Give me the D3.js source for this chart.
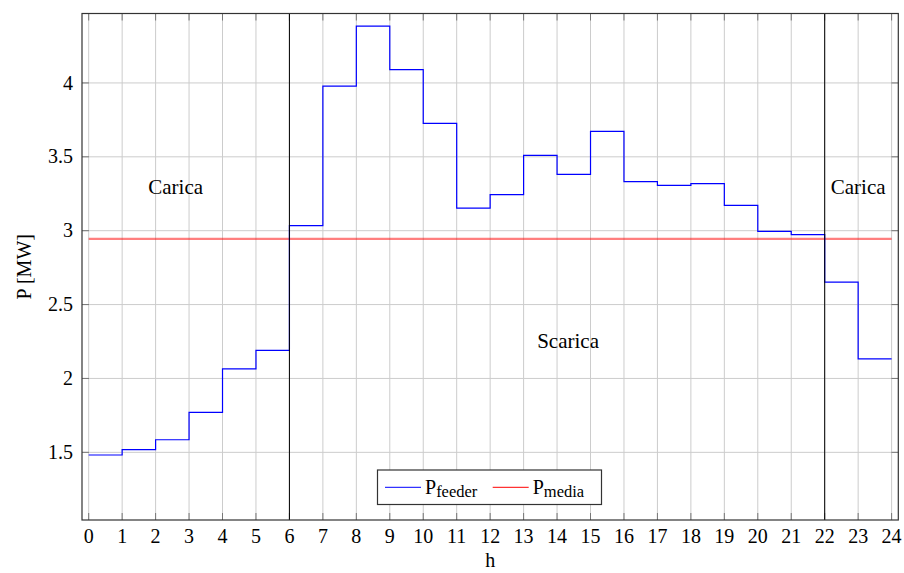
<!DOCTYPE html>
<html>
  <head>
    <meta charset="utf-8">
    <title>P feeder</title>
    <script src="https://d3js.org/d3.v7.min.js"></script>
    <style>
      body { margin: 0; background: #fff; }
      svg { display: block; font-family: "Liberation Serif", "DejaVu Serif", serif; }
      .grid line { stroke: #cccccc; stroke-width: 1; }
      .tick-label { font-size: 20px; fill: #000; }
    </style>
  </head>
  <body>
    <svg width="904" height="573"></svg>
    <script>
      // hours (start of each step) and feeder power in MW
      const hours = d3.range(0, 24);
      const pFeeder = [
        1.482, 1.518, 1.585, 1.771, 2.065, 2.190,
        3.034, 3.978, 4.384, 4.090, 3.726, 3.153,
        3.244, 3.510, 3.381, 3.672, 3.332, 3.307,
        3.318, 3.171, 2.995, 2.973, 2.652, 2.133
      ];
      const pMedia = 2.944;
      const xTicks = d3.range(0, 25);
      const yTicks = [1.5, 2, 2.5, 3, 3.5, 4];
      const phaseLines = [6, 22];
      const phaseLabels = [
        { text: "Carica", h: 2.6, p: 3.3 },
        { text: "Carica", h: 23, p: 3.3 },
        { text: "Scarica", h: 14.33, p: 2.253 }
      ];

      // plot box
      const box = { left: 82, right: 898.3, top: 13.5, bottom: 520 };

      const x = d3.scaleLinear().domain([-0.2, 24.2]).range([box.left, box.right]);
      const y = d3.scaleLinear().domain([1.042, 4.47]).range([box.bottom, box.top]);

      const svg = d3.select("svg");

      // grid
      const grid = svg.append("g").attr("class", "grid");
      grid.selectAll(".gx").data(xTicks).join("line")
        .attr("class", "gx")
        .attr("x1", d => x(d)).attr("x2", d => x(d))
        .attr("y1", box.top).attr("y2", box.bottom);
      grid.selectAll(".gy").data(yTicks).join("line")
        .attr("class", "gy")
        .attr("x1", box.left).attr("x2", box.right)
        .attr("y1", d => y(d)).attr("y2", d => y(d));

      // inner ticks on all four sides
      const tickLen = 7;
      const ticks = svg.append("g").attr("stroke", "#777").attr("stroke-width", 1);
      xTicks.forEach(d => {
        ticks.append("line").attr("x1", x(d)).attr("x2", x(d)).attr("y1", box.bottom).attr("y2", box.bottom - tickLen);
        ticks.append("line").attr("x1", x(d)).attr("x2", x(d)).attr("y1", box.top).attr("y2", box.top + tickLen);
      });
      yTicks.forEach(d => {
        ticks.append("line").attr("x1", box.left).attr("x2", box.left + tickLen).attr("y1", y(d)).attr("y2", y(d));
        ticks.append("line").attr("x1", box.right).attr("x2", box.right - tickLen).attr("y1", y(d)).attr("y2", y(d));
      });

      // mean line
      svg.append("line")
        .attr("x1", x(0)).attr("x2", x(24))
        .attr("y1", y(pMedia)).attr("y2", y(pMedia))
        .attr("stroke", "#ff0000").attr("stroke-opacity", 0.5).attr("stroke-width", 2.2);

      // feeder step line
      const stepData = hours.map((h, i) => [h, pFeeder[i]]);
      stepData.push([24, pFeeder[pFeeder.length - 1]]);
      const line = d3.line()
        .x(d => x(d[0]))
        .y(d => y(d[1]))
        .curve(d3.curveStepAfter);
      svg.append("path")
        .datum(stepData)
        .attr("fill", "none")
        .attr("stroke", "#0000ff")
        .attr("stroke-width", 1.2)
        .attr("d", line);

      // phase separators
      svg.selectAll(".phase").data(phaseLines).join("line")
        .attr("class", "phase")
        .attr("x1", d => x(d)).attr("x2", d => x(d))
        .attr("y1", box.top).attr("y2", box.bottom)
        .attr("stroke", "#000").attr("stroke-width", 1);

      // phase labels
      svg.selectAll(".plabel").data(phaseLabels).join("text")
        .attr("class", "plabel")
        .attr("x", d => x(d.h)).attr("y", d => y(d.p))
        .attr("dy", "0.35em")
        .attr("text-anchor", "middle")
        .attr("font-size", 21)
        .text(d => d.text);

      // axis box
      svg.append("rect")
        .attr("x", box.left).attr("y", box.top)
        .attr("width", box.right - box.left).attr("height", box.bottom - box.top)
        .attr("fill", "none").attr("stroke", "#333").attr("stroke-width", 1.2);

      // tick labels
      svg.selectAll(".xl").data(xTicks).join("text")
        .attr("class", "tick-label xl")
        .attr("x", d => x(d)).attr("y", 543)
        .attr("text-anchor", "middle")
        .text(d => d);
      svg.selectAll(".yl").data(yTicks).join("text")
        .attr("class", "tick-label yl")
        .attr("x", 73).attr("y", d => y(d)).attr("dy", "0.33em")
        .attr("text-anchor", "end")
        .text(d => d);

      // axis labels
      svg.append("text")
        .attr("x", (box.left + box.right) / 2).attr("y", 567)
        .attr("text-anchor", "middle").attr("font-size", 20)
        .text("h");
      svg.append("text")
        .attr("transform", `translate(31,${(box.top + box.bottom) / 2}) rotate(-90)`)
        .attr("text-anchor", "middle").attr("font-size", 20)
        .text("P [MW]");

      // legend
      const lg = svg.append("g");
      lg.append("rect")
        .attr("x", 377.5).attr("y", 470).attr("width", 224).attr("height", 34.5)
        .attr("fill", "#fff").attr("stroke", "#333").attr("stroke-width", 1.2);
      const items = [
        { color: "#0000ff", sub: "feeder", x0: 385 },
        { color: "#ff0000", sub: "media", x0: 492.7 }
      ];
      items.forEach(it => {
        lg.append("line")
          .attr("x1", it.x0).attr("x2", it.x0 + 36)
          .attr("y1", 487.3).attr("y2", 487.3)
          .attr("stroke", it.color).attr("stroke-width", 1);
        const t = lg.append("text").attr("x", it.x0 + 40).attr("y", 493.5).attr("font-size", 20);
        t.append("tspan").text("P");
        t.append("tspan").attr("font-size", 16.5).attr("dy", 3).text(it.sub);
      });
    </script>
  </body>
</html>
